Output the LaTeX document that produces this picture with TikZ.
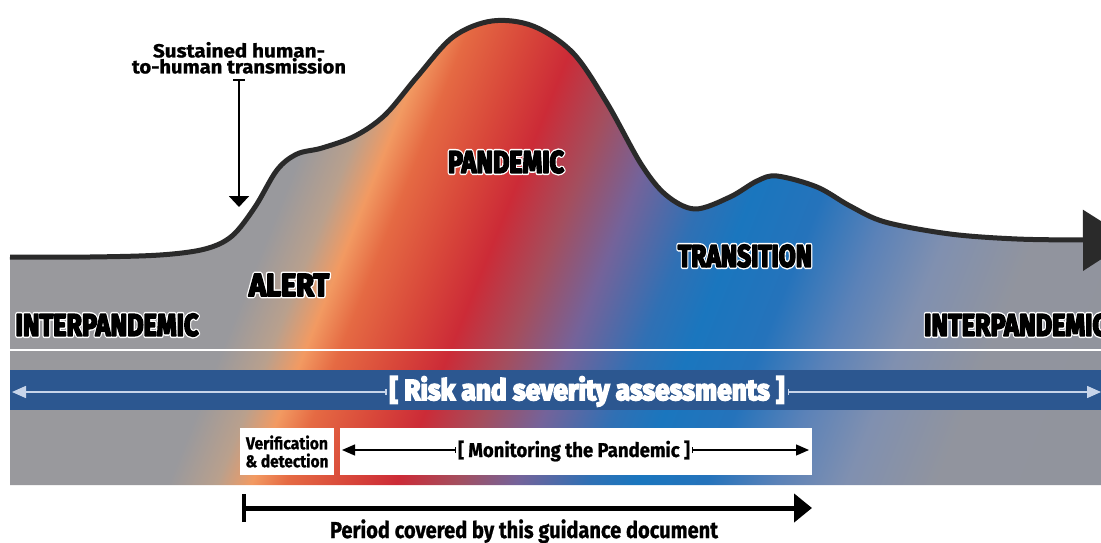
\documentclass[tikz,border=0pt]{standalone}
\usepackage{graphicx}
\usepackage{fontspec}
\setmainfont[BoldFeatures={FakeBold=1}]{Fira Sans}
\newfontfamily\heavy[BoldFeatures={FakeBold=6}]{Fira Sans}
\newfontfamily\heavyhalo[BoldFeatures={FakeBold=15}]{Fira Sans}
\usetikzlibrary{arrows.meta}
\definecolor{cA}{HTML}{99999D}
\definecolor{cB}{HTML}{B9A08D}
\definecolor{cC}{HTML}{F29A62}
\definecolor{cD}{HTML}{E56A43}
\definecolor{cE}{HTML}{D8473A}
\definecolor{cF}{HTML}{CC2B37}
\definecolor{cG}{HTML}{A44E5E}
\definecolor{cH}{HTML}{74639A}
\definecolor{cI}{HTML}{3070B4}
\definecolor{cJ}{HTML}{1A76BE}
\definecolor{cK}{HTML}{2573BB}
\definecolor{cL}{HTML}{5B82B8}
\definecolor{cM}{HTML}{8090B0}
\definecolor{cN}{HTML}{91949E}
\definecolor{cO}{HTML}{939398}
\definecolor{curvecol}{HTML}{2A2A2A}
\definecolor{bandblue}{HTML}{2C5790}
\definecolor{bandline}{HTML}{C8D5EA}
\pgfdeclarehorizontalshading{pandgrad}{100bp}{color(0bp)=(cA); color(37.9bp)=(cA); color(39.64bp)=(cB); color(40.89bp)=(cC); color(42.14bp)=(cD); color(44.29bp)=(cE); color(46.07bp)=(cF); color(48.21bp)=(cG); color(50.36bp)=(cH); color(52.86bp)=(cI); color(54.64bp)=(cJ); color(57.14bp)=(cK); color(59.64bp)=(cL); color(62.14bp)=(cM); color(65.36bp)=(cN); color(100bp)=(cO)}
\newcommand\halo[1]{{\special{pdf:literal direct 1 j 1 J}\rlap{\smash{\color{white}\heavyhalo\bfseries #1}}\heavy\bfseries #1}}
\newcommand\lab[3]{\resizebox{#1pt}{#2pt}{\fontsize{32}{32}\selectfont\halo{#3}}}
\begin{document}
\begin{tikzpicture}[x=1pt,y=-1pt,
  lbl/.style={inner sep=0pt, outer sep=0pt},
  curveline/.style={draw=curvecol, line width=5pt, line join=round},
  bandarr/.style={draw=bandline, line width=1.5pt},
  monarr/.style={draw=black, line width=1.3pt},
  whitebox/.style={fill=white, inner sep=0pt, minimum height=47pt},
  susarr/.style={draw=black, line width=2pt}]
\useasboundingbox (0,0) rectangle (1101,543);
\fill[white] (0,0) rectangle (1101,543);
% gradient region
\path[path picture={\shade[shading=pandgrad, transform canvas={xslant=0.4}] (0,0) rectangle (1400,543);}]
  (10,485) -- plot[smooth,tension=0.55] coordinates {(10,257) (90,257) (160,255) (205,249) (232,236) (255,207) (277,170) (297,154) (322,148) (355,136) (385,115) (417,77) (453,37) (492,21) (533,26) (573,53) (607,103) (641,164) (666,195) (695,209) (730,197) (757,181) (777,176) (817,187) (850,206) (885,222) (950,234) (1017,239) (1085,240) (1131,240)} -- (1101,485) -- cycle;
% curve
\draw[curveline, -{Triangle[length=48pt,width=60pt]}]
  plot[smooth,tension=0.55] coordinates {(10,257) (90,257) (160,255) (205,249) (232,236) (255,207) (277,170) (297,154) (322,148) (355,136) (385,115) (417,77) (453,37) (492,21) (533,26) (573,53) (607,103) (641,164) (666,195) (695,209) (730,197) (757,181) (777,176) (817,187) (850,206) (885,222) (950,234) (1017,239) (1085,240) (1131,240)};
% white line
\draw[white, line width=2pt] (10,350) -- (1101,350);
% blue band
\fill[bandblue] (10,370) rectangle (1101,410);
\node[lbl, anchor=base, text=white] (risk) at (587,400) {\resizebox{395pt}{\height}{\heavy\bfseries\fontsize{29}{29}\selectfont [ Risk and severity assessments ]}};
\coordinate (bandL) at (12,392);
\coordinate (bandR) at (1101,392);
\draw[bandarr, {Bar[width=6pt]}-{Triangle[length=14pt,width=12pt]}] ([xshift=-3pt]risk.west |- bandL) -- (bandL);
\draw[bandarr, {Bar[width=6pt]}-{Triangle[length=14pt,width=12pt]}] ([xshift=3pt]risk.east |- bandR) -- (bandR);
% lower band boxes
\node[whitebox, minimum width=94pt, align=center, font=\bfseries\fontsize{17}{18}\selectfont] (verif) at (287,451.5)
  {\resizebox{82pt}{\height}{Verification}\\\resizebox{83pt}{\height}{\& detection}};
\node[whitebox, minimum width=472pt] (monbox) at (576,451.5) {};
\node[lbl, anchor=base] (mon) at (574,457) {\resizebox{232pt}{\height}{\bfseries\fontsize{20}{20}\selectfont [ Monitoring the Pandemic ]}};
\coordinate (monL) at (342,450);
\coordinate (monR) at (809,450);
\draw[monarr, {Bar[width=6pt]}-{Triangle[length=13pt,width=11pt]}] ([xshift=-2pt]mon.west |- monL) -- (monL);
\draw[monarr, {Bar[width=6pt]}-{Triangle[length=13pt,width=11pt]}] ([xshift=2pt]mon.east |- monR) -- (monR);
% period arrow
\coordinate (pS) at (242,508);
\coordinate (pE) at (812,508);
\draw[line width=5pt, {Bar[width=28pt,line width=4pt]}-{Triangle[length=18pt,width=28pt]}] (pS) -- (pE);
\node[lbl, anchor=base] (period) at (524,538) {\resizebox{388pt}{\height}{\bfseries\fontsize{23}{23}\selectfont Period covered by this guidance document}};
% sustained
\node[lbl, anchor=north, align=center, font=\bfseries\fontsize{19}{16}\selectfont] (sus) at (239,42)
  {\resizebox{172pt}{\height}{Sustained human-}\\\resizebox{214pt}{\height}{to-human transmission}};
\coordinate (susT) at (239,207);
\draw[susarr, {Bar[width=12pt]}-{Triangle[length=11pt,width=20pt]}] ([yshift=-5pt]sus.south) -- (susT);
% phase labels
\node[lbl] (ipL) at (107,325) {\lab{183}{22}{INTERPANDEMIC}};
\node[lbl] (alert) at (289,285) {\lab{80}{22}{ALERT}};
\node[lbl] (pand) at (506,162) {\lab{116}{22}{PANDEMIC}};
\node[lbl] (trans) at (745,256) {\lab{134}{22}{TRANSITION}};
\node[lbl, anchor=west] (ipR) at (924,325) {\lab{183}{22}{INTERPANDEMIC}};
\end{tikzpicture}
\end{document}
